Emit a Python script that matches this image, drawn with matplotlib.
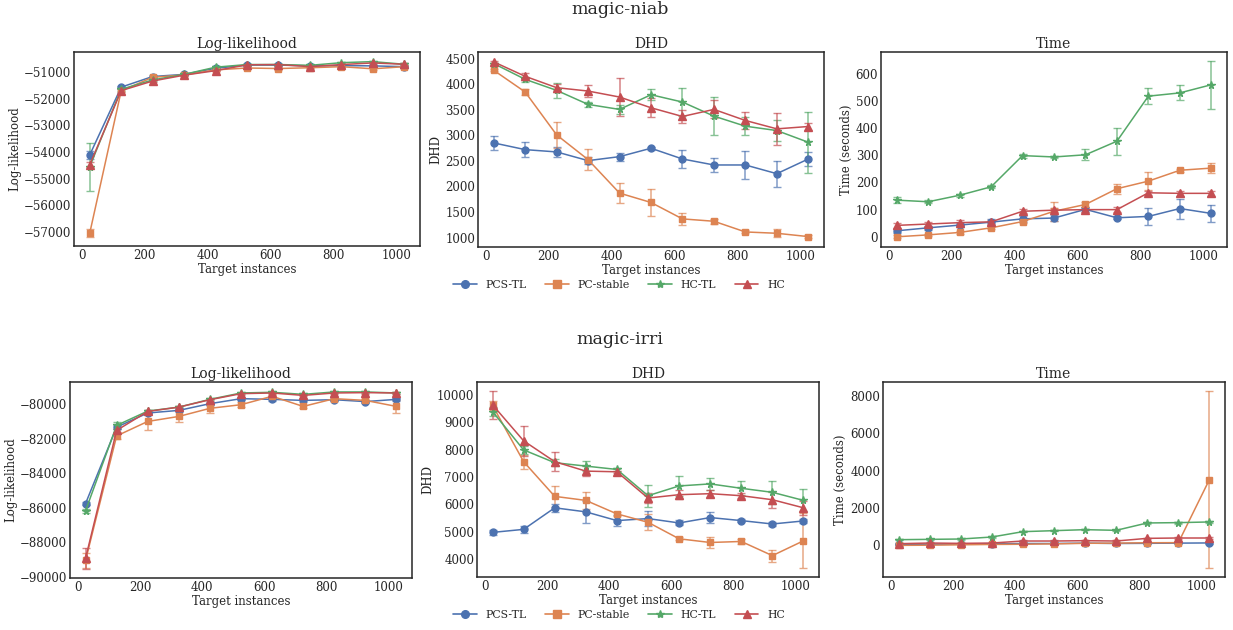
import matplotlib
matplotlib.use("Agg")
import matplotlib.pyplot as plt
from matplotlib.lines import Line2D

plt.style.use("seaborn-v0_8-white")
plt.rcParams["font.family"] = ["DejaVu Serif"]
plt.rcParams["text.color"] = ".15"
plt.rcParams["axes.labelcolor"] = ".15"
plt.rcParams["xtick.color"] = ".15"
plt.rcParams["ytick.color"] = ".15"
plt.rcParams["axes.edgecolor"] = ".15"
plt.rcParams["axes.linewidth"] = 1.1

x = [25, 125, 225, 325, 425, 525, 625, 725, 825, 925, 1025]
methods = ["PCS-TL", "PC-stable", "HC-TL", "HC"]
colors = ["#4C72B0", "#DD8452", "#55A868", "#C44E52"]
markers = ["o", "s", "*", "^"]

# ---- magic-niab ----
niab_ll = [
    [-54110, -51560, -51160, -51080, -50850, -50730, -50730, -50760, -50750, -50760, -50790],
    [-57050, -51700, -51190, -51100, -50910, -50840, -50860, -50830, -50790, -50870, -50790],
    [-54550, -51640, -51290, -51080, -50810, -50710, -50710, -50740, -50640, -50600, -50700],
    [-54480, -51690, -51330, -51110, -50940, -50720, -50710, -50790, -50710, -50650, -50700],
]
niab_ll_err = [
    [150, 60, 40, 30, 30, 30, 30, 30, 30, 30, 30],
    [150, 120, 60, 40, 40, 40, 40, 40, 40, 40, 40],
    [900, 60, 40, 30, 30, 30, 30, 30, 30, 30, 30],
    [100, 60, 40, 30, 30, 30, 30, 30, 30, 30, 30],
]
niab_dhd = [
    [2851, 2720, 2675, 2505, 2583, 2747, 2537, 2420, 2420, 2250, 2537],
    [4271, 3846, 3008, 2524, 1870, 1687, 1366, 1320, 1111, 1085, 1020],
    [4402, 4094, 3878, 3604, 3506, 3793, 3650, 3375, 3178, 3093, 2864],
    [4435, 4153, 3931, 3865, 3748, 3538, 3368, 3506, 3290, 3126, 3172],
]
niab_dhd_err = [
    [140, 150, 90, 70, 80, 30, 175, 140, 275, 255, 130],
    [20, 50, 260, 210, 195, 260, 120, 45, 30, 80, 30],
    [20, 50, 150, 45, 90, 110, 280, 370, 180, 200, 600],
    [20, 70, 80, 110, 365, 190, 125, 175, 170, 310, 70],
]
niab_time = [
    [22, 33, 43, 54, 66, 69, 101, 70, 75, 104, 86],
    [0, 7, 16, 33, 56, 94, 119, 177, 205, 245, 253],
    [135, 129, 153, 184, 299, 294, 302, 352, 518, 530, 560],
    [42, 47, 52, 55, 94, 98, 100, 100, 162, 160, 160],
]
niab_time_err = [
    [8, 7, 7, 10, 10, 10, 10, 6, 30, 37, 30],
    [5, 5, 5, 6, 5, 35, 10, 18, 33, 6, 17],
    [10, 5, 5, 5, 7, 5, 20, 50, 30, 28, 88],
    [8, 8, 8, 8, 8, 8, 8, 10, 8, 8, 8],
]

# ---- magic-irri ----
irri_ll = [
    [-85770, -81340, -80520, -80370, -79980, -79690, -79730, -79790, -79750, -79860, -79730],
    [-89070, -81850, -81010, -80720, -80250, -80040, -79550, -80140, -79690, -79790, -80140],
    [-86190, -81240, -80410, -80180, -79730, -79360, -79320, -79440, -79300, -79300, -79360],
    [-88950, -81530, -80430, -80180, -79750, -79400, -79360, -79500, -79360, -79340, -79360],
]
irri_ll_err = [
    [100, 100, 80, 80, 80, 80, 80, 80, 80, 80, 80],
    [430, 150, 500, 330, 290, 150, 100, 100, 100, 100, 390],
    [100, 200, 80, 60, 60, 60, 60, 60, 60, 60, 60],
    [620, 100, 80, 60, 60, 60, 60, 60, 60, 60, 60],
]
irri_dhd = [
    [4973, 5084, 5873, 5725, 5405, 5479, 5319, 5516, 5405, 5281, 5392],
    [9618, 7561, 6292, 6144, 5651, 5343, 4739, 4604, 4641, 4123, 4665],
    [9396, 7992, 7524, 7400, 7277, 6316, 6673, 6748, 6587, 6440, 6144],
    [9643, 8324, 7561, 7216, 7191, 6230, 6353, 6390, 6316, 6169, 5873],
]
irri_dhd_err = [
    [80, 120, 150, 400, 190, 260, 90, 200, 60, 60, 80],
    [180, 250, 380, 310, 60, 290, 60, 210, 80, 220, 1000],
    [180, 150, 130, 170, 70, 400, 370, 220, 260, 410, 400],
    [510, 550, 350, 170, 40, 180, 170, 120, 100, 290, 250],
]
irri_time = [
    [50, 60, 70, 80, 100, 100, 120, 100, 110, 120, 130],
    [0, 10, 30, 50, 60, 80, 110, 120, 140, 145, 3526],
    [304, 322, 340, 447, 734, 787, 841, 805, 1199, 1217, 1253],
    [90, 125, 107, 125, 233, 233, 250, 233, 376, 394, 394],
]
irri_time_err = [
    [20, 20, 20, 20, 20, 20, 20, 20, 20, 20, 40],
    [20, 20, 20, 20, 20, 20, 20, 20, 20, 20, 4745],
    [30, 30, 30, 30, 40, 40, 40, 40, 50, 50, 50],
    [20, 20, 20, 20, 30, 30, 30, 30, 30, 30, 30],
]

fig = plt.figure(figsize=(12.33, 6.3), dpi=100)

W, H = 1233.0, 630.0


def box(l, t, r, b):
    return [l / W, 1 - b / H, (r - l) / W, (b - t) / H]


rows = [
    ("magic-niab", [(niab_ll, niab_ll_err), (niab_dhd, niab_dhd_err), (niab_time, niab_time_err)],
     [box(74, 52, 420, 246), box(478, 52, 824, 247), box(881, 52, 1227, 247)], 10, 285),
    ("magic-irri", [(irri_ll, irri_ll_err), (irri_dhd, irri_dhd_err), (irri_time, irri_time_err)],
     [box(70, 382, 412, 578), box(477, 382, 819, 577), box(883, 382, 1225, 577)], 340, 615),
]
titles = ["Log-likelihood", "DHD", "Time"]
ylabels = ["Log-likelihood", "DHD", "Time (seconds)"]
msizes = [5, 5, 5.5, 5.5]

for name, panels, boxes, ty, ly in rows:
    fig.text(0.503, 1 - ty / H, name, ha="center", va="center", fontsize=12.5)
    for (vals, errs), bx, title, ylab in zip(panels, boxes, titles, ylabels):
        ax = fig.add_axes(bx)
        for i in range(4):
            h = ax.errorbar(x, vals[i], yerr=errs[i], color=colors[i], marker=markers[i],
                            markersize=msizes[i], linewidth=1.1,
                            elinewidth=1.1, capsize=3, label=methods[i])
            for c in h[1]:
                c.set_alpha(0.7)
            for c in h[2]:
                c.set_alpha(0.7)
        ax.set_title(title, fontsize=10, pad=3)
        ax.set_xlabel("Target instances", fontsize=8.5, labelpad=1)
        ax.set_ylabel(ylab, fontsize=8.5, labelpad=2)
        ax.tick_params(labelsize=8.5, pad=2)
        ax.set_xticks([0, 200, 400, 600, 800, 1000])
    handles = [Line2D([], [], color=colors[i], marker=markers[i], markersize=msizes[i] + 0.5,
                      linewidth=1.2) for i in range(4)]
    fig.legend(handles, methods, loc="center", ncol=4, frameon=False, fontsize=7.8,
               bbox_to_anchor=(0.502, 1 - ly / H), columnspacing=1.7, handlelength=2.2)

fig.savefig("out.png", dpi=100)
